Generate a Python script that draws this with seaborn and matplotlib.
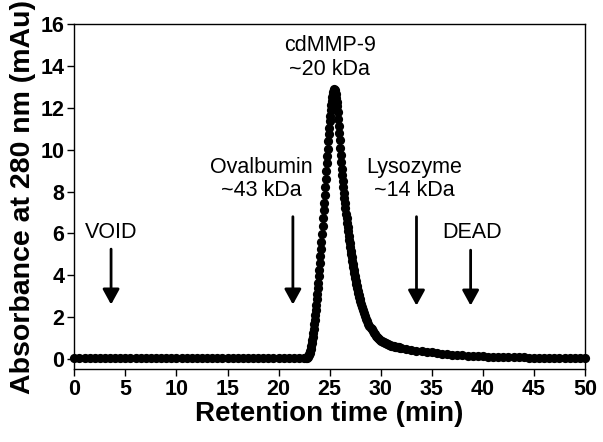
import numpy as np
import pandas as pd
import matplotlib
matplotlib.use("Agg")
import matplotlib.pyplot as plt
import seaborn as sns

# -------- data --------

# baseline before the peak, sampled every 0.5 min (0 - 22.5 min)
t_base = np.arange(0, 23, 0.5)
a_base = [0.06, 0.06, 0.05, 0.05, 0.05, 0.04, 0.04, 0.04, 0.04, 0.04,
          0.04, 0.04, 0.03, 0.03, 0.03, 0.03, 0.03, 0.03, 0.03, 0.03,
          0.03, 0.03, 0.03, 0.03, 0.03, 0.03, 0.03, 0.03, 0.03, 0.03,
          0.03, 0.03, 0.03, 0.03, 0.03, 0.03, 0.03, 0.03, 0.03, 0.03,
          0.03, 0.03, 0.03, 0.03, 0.04, 0.04]

# peak, sampled every 0.05 min (22.70 - 27.95 min)
t_peak = np.round(np.arange(22.70, 27.96, 0.05), 2)
a_peak = [0.05, 0.06, 0.08, 0.10, 0.13, 0.17, 0.22, 0.29, 0.38, 0.48,
          0.60, 0.74, 0.90, 1.07, 1.25, 1.45, 1.65, 1.87, 2.10, 2.35,
          2.60, 2.85, 3.10, 3.37, 3.65, 3.95, 4.25, 4.57, 4.90, 5.25,
          5.60, 5.97, 6.35, 6.72, 7.10, 7.47, 7.85, 8.22, 8.60, 8.97,
          9.35, 9.70, 10.05, 10.40, 10.75, 11.05, 11.35, 11.63, 11.90, 12.13,
          12.35, 12.52, 12.65, 12.77, 12.85, 12.88, 12.85, 12.77, 12.65, 12.49,
          12.30, 12.07, 11.80, 11.49, 11.15, 10.80, 10.45, 10.10, 9.75, 9.42,
          9.10, 8.80, 8.50, 8.22, 7.95, 7.70, 7.45, 7.20, 6.95, 6.72,
          6.50, 6.30, 6.10, 5.90, 5.70, 5.52, 5.35, 5.17, 5.00, 4.85,
          4.70, 4.55, 4.40, 4.26, 4.12, 3.98, 3.85, 3.72, 3.60, 3.49,
          3.38, 3.27, 3.17, 3.07, 2.97, 2.87]

# tail, sampled every 0.1 min (28.0 - 31.9 min)
t_tail = np.round(np.arange(28.0, 31.95, 0.1), 1)
a_tail = [2.78, 2.62, 2.47, 2.32, 2.18, 2.05, 1.92, 1.80, 1.69, 1.59,
          1.50, 1.41, 1.33, 1.25, 1.18, 1.12, 1.06, 1.01, 0.96, 0.92,
          0.88, 0.85, 0.82, 0.79, 0.76, 0.74, 0.72, 0.70, 0.68, 0.66,
          0.64, 0.63, 0.61, 0.60, 0.59, 0.58, 0.57, 0.56, 0.55, 0.54]

# late baseline, sampled every 0.5 min (32 - 50 min)
t_late = np.arange(32, 50.01, 0.5)
a_late = [0.53, 0.48, 0.44, 0.40, 0.37, 0.34, 0.31, 0.28, 0.25, 0.23,
          0.21, 0.19, 0.17, 0.15, 0.14, 0.13, 0.12, 0.11, 0.10, 0.09,
          0.09, 0.08, 0.08, 0.07, 0.07, 0.06, 0.06, 0.06, 0.05, 0.05,
          0.05, 0.05, 0.05, 0.04, 0.04, 0.04, 0.04]

# marker annotations: label, text position, arrow top, arrow tip
labels = ["VOID", "Ovalbumin\n~43 kDa", "Lysozyme\n~14 kDa", "DEAD"]
label_x = [3.6, 18.3, 33.3, 38.9]
label_y = [6.05, 8.6, 8.6, 6.05]
arrow_x = [3.6, 21.4, 33.5, 38.8]
arrow_top = [5.25, 6.8, 6.8, 5.2]
arrow_tip = [2.6, 2.6, 2.55, 2.55]

df = pd.DataFrame({
    "time": np.concatenate([t_base, t_peak, t_tail, t_late]),
    "abs280": np.concatenate([a_base, a_peak, a_tail, a_late]),
})

# -------- style --------

sns.set_style("ticks")
plt.rcParams['font.family'] = ['Liberation Sans', 'DejaVu Sans']
plt.rcParams['text.color'] = 'black'
plt.rcParams['axes.labelcolor'] = 'black'
plt.rcParams['xtick.color'] = 'black'
plt.rcParams['ytick.color'] = 'black'

fig = plt.figure(figsize=(6.03, 4.42), dpi=100)
ax = fig.add_axes([0.1232, 0.1652, 0.847, 0.780])

sns.scatterplot(
    data=df,
    x="time",
    y="abs280",
    color="black",
    s=44,
    linewidth=0,
    clip_on=False,
    zorder=3,
    ax=ax
)

# -------- annotations --------

ax.text(25.0, 14.4, "cdMMP-9\n~20 kDa", ha="center", va="center",
        fontsize=15.5, linespacing=1.15, color="black")

for lab, lx, ly, axx, top, tip in zip(labels, label_x, label_y,
                                      arrow_x, arrow_top, arrow_tip):
    ax.text(lx, ly, lab, ha="center", va="center",
            fontsize=15.5, linespacing=1.15, color="black")
    ax.annotate("", xy=(axx, tip), xytext=(axx, top),
                arrowprops=dict(arrowstyle="-|>,head_length=0.4,head_width=0.22",
                                mutation_scale=23, lw=2.0, color="black",
                                shrinkA=0, shrinkB=0))

# -------- axes --------

ax.set_xlim(0, 50)
ax.set_ylim(-0.48, 16)
ax.set_xticks(np.arange(0, 51, 5))
ax.set_yticks(np.arange(0, 17, 2))

for side in ["top", "right", "left", "bottom"]:
    ax.spines[side].set_visible(True)
    ax.spines[side].set_linewidth(1.0)
    ax.spines[side].set_color("black")

ax.tick_params(axis="both", direction="out", length=5, width=1.0,
               pad=2, labelsize=15.5, colors="black")
for lab in ax.get_xticklabels() + ax.get_yticklabels():
    lab.set_fontweight("bold")

ax.set_xlabel("Retention time (min)", fontsize=20, fontweight="bold",
              labelpad=1, color="black")
ax.set_ylabel("Absorbance at 280 nm (mAu)", fontsize=20.5, fontweight="bold",
              labelpad=3, color="black")

plt.savefig("out.png", dpi=100)
